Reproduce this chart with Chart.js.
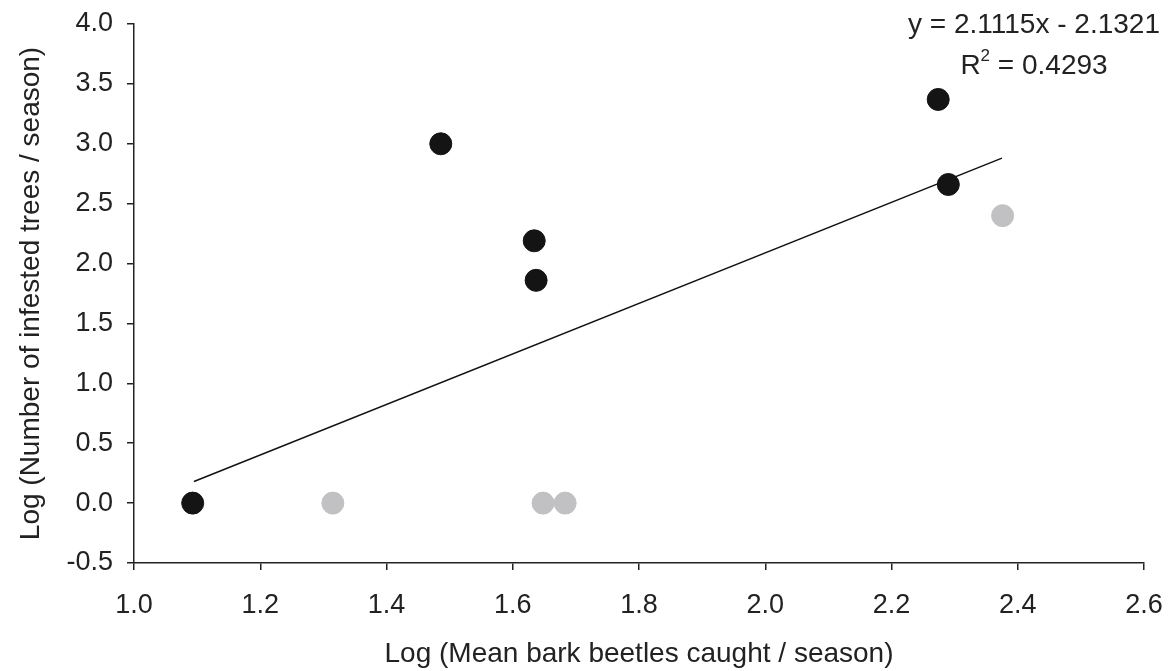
<!DOCTYPE html>
<html>
<head>
<meta charset="utf-8">
<script src="https://cdn.jsdelivr.net/npm/chart.js@4"></script>
<style>
  html, body { margin: 0; padding: 0; background: #fff; }
  #wrap { width: 1175px; height: 671px; }
</style>
</head>
<body>
<div id="wrap"><canvas id="chart" width="1175" height="671"></canvas></div>
<script>
// Black points
const blackX = [1.093, 1.486, 1.634, 1.637, 2.274, 2.290];
const blackY = [0.00, 3.00, 2.19, 1.86, 3.37, 2.66];

// Grey points
const greyX = [1.315, 1.648, 1.683, 2.376];
const greyY = [0.00, 0.00, 0.00, 2.40];

// Trend line
const trendX = [1.095, 2.375];
const trendY = [0.18, 2.88];

const eqText = "y = 2.1115x - 2.1321";
const r2Text = "0.4293";

const xTitle = "Log (Mean bark beetles caught / season)";
const yTitle = "Log (Number of infested trees / season)";

const FONT = "'Liberation Sans', Arial, sans-serif";
const INK = "#222";
const TICK_SIZE = 27;
const TITLE_SIZE = 28;

const toPts = (xs, ys) => xs.map((x, i) => ({ x, y: ys[i] }));

// equation + R² text in the top-right
const eqPlugin = {
    id: "eq",
    afterDraw(chart) {
        const ctx = chart.ctx;
        const cx = 1034;
        ctx.save();
        ctx.fillStyle = INK;
        ctx.textBaseline = "middle";
        ctx.font = TITLE_SIZE + "px " + FONT;
        ctx.textAlign = "center";
        ctx.fillText(eqText, cx, 25);

        // R^2 = ...
        const rest = " = " + r2Text;
        const wR = ctx.measureText("R").width;
        const wRest = ctx.measureText(rest).width;
        ctx.font = "17px " + FONT;
        const w2 = ctx.measureText("2").width;
        const total = wR + w2 + wRest;
        let x = cx - total / 2;
        ctx.textAlign = "left";
        ctx.font = TITLE_SIZE + "px " + FONT;
        ctx.fillText("R", x, 66);
        x += wR;
        ctx.font = "17px " + FONT;
        ctx.fillText("2", x, 56);
        x += w2;
        ctx.font = TITLE_SIZE + "px " + FONT;
        ctx.fillText(rest, x, 66);
        ctx.restore();
    }
};

new Chart(document.getElementById("chart"), {
    type: "scatter",
    data: {
        datasets: [
            {
                type: "line",
                data: toPts(trendX, trendY),
                borderColor: "#111",
                borderWidth: 1.5,
                pointRadius: 0,
                fill: false,
                order: 3
            },
            {
                data: toPts(greyX, greyY),
                backgroundColor: "#c1c1c4",
                borderColor: "#c1c1c4",
                pointRadius: 11,
                order: 2
            },
            {
                data: toPts(blackX, blackY),
                backgroundColor: "#141414",
                borderColor: "#141414",
                pointRadius: 11,
                order: 1
            }
        ]
    },
    options: {
        responsive: false,
        animation: false,
        layout: { padding: { top: 24, right: 31, left: 0, bottom: 0 } },
        plugins: {
            legend: { display: false },
            tooltip: { enabled: false }
        },
        scales: {
            x: {
                type: "linear",
                min: 1.0,
                max: 2.6,
                afterFit: s => { s.height = 108; s.paddingLeft = 0; s.paddingRight = 0; },
                ticks: {
                    stepSize: 0.2,
                    color: INK,
                    font: { family: FONT, size: TICK_SIZE },
                    padding: 19,
                    maxRotation: 0,
                    callback: v => v.toFixed(1)
                },
                grid: {
                    drawOnChartArea: false,
                    drawTicks: true,
                    tickLength: 7,
                    color: INK,
                    lineWidth: 1.5
                },
                border: { color: INK, width: 1.5 },
                title: {
                    display: true,
                    text: xTitle,
                    color: INK,
                    font: { family: FONT, size: TITLE_SIZE },
                    padding: { top: 0, bottom: 0 }
                }
            },
            y: {
                type: "linear",
                min: -0.5,
                max: 4.0,
                afterFit: s => { s.width = 134; s.paddingTop = 0; s.paddingBottom = 0; },
                ticks: {
                    stepSize: 0.5,
                    color: INK,
                    font: { family: FONT, size: TICK_SIZE },
                    padding: 14,
                    callback: v => v.toFixed(1)
                },
                grid: {
                    drawOnChartArea: false,
                    drawTicks: true,
                    tickLength: 7,
                    color: INK,
                    lineWidth: 1.5
                },
                border: { color: INK, width: 1.5 },
                title: {
                    display: true,
                    text: yTitle,
                    color: INK,
                    font: { family: FONT, size: TITLE_SIZE },
                    padding: { top: 14, bottom: 0 }
                }
            }
        }
    },
    plugins: [eqPlugin]
});
</script>
</body>
</html>
